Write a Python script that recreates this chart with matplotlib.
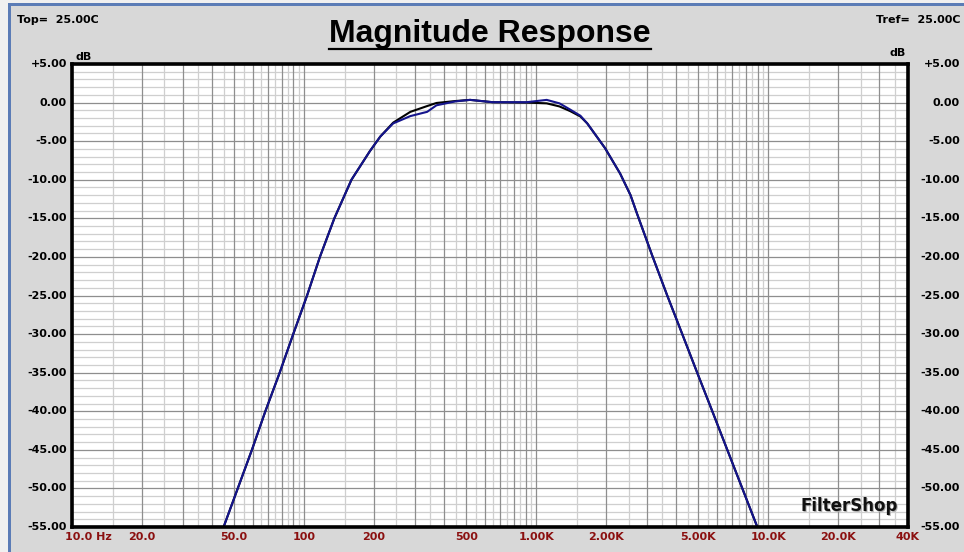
#!/usr/bin/env python3

import numpy as np
import matplotlib
import matplotlib.pyplot as plt
from matplotlib import transforms
from matplotlib.patches import Rectangle
from matplotlib.lines import Line2D

matplotlib.use('Agg')

# frequency points (Hz)
freq_hz = [10, 45, 59.6, 68.1, 78.5, 89.8, 103, 117, 135, 160, 192, 213, 242, 287, 339, 372,
           448, 519, 650, 910, 1110, 1260, 1400, 1550, 1660, 1980, 2300, 2550, 2720, 3160,
           3670, 4260, 4940, 5740, 6660, 7730, 8970, 40000]

# measured (black) and model (blue) magnitude in dB
black_db = [-55, -55, -45, -40, -35, -30, -25, -20, -15, -10, -6.3, -4.4, -2.6, -1.2, -0.45, -0.05,
            0.2, 0.35, 0.05, 0.0, -0.1, -0.5, -1.1, -1.8, -2.7, -5.9, -9.2, -12.0, -14.4, -19.8,
            -25, -30, -35, -40, -45, -50, -55, -55]
blue_db = [-55, -55, -45, -40, -35, -30, -25, -20, -15, -10, -6.3, -4.4, -2.7, -1.75, -1.2, -0.35,
           0.15, 0.35, 0.05, 0.05, 0.35, -0.1, -0.9, -1.7, -2.7, -5.9, -9.2, -12.0, -14.4, -19.8,
           -25, -30, -35, -40, -45, -50, -55, -55]

x_ticks = [10, 20, 50, 100, 200, 500, 1000, 2000, 5000, 10000, 20000, 40000]
x_labels = ['10.0 Hz', '20.0', '50.0', '100', '200', '500', '1.00K', '2.00K',
            '5.00K', '10.0K', '20.0K', '40K']
y_ticks = list(range(5, -60, -5))


def db_label(v):
    if v > 0:
        return '+%.2f' % v
    return '%.2f' % v


W, H = 964, 552
fig = plt.figure(figsize=(W / 100, H / 100), dpi=100, facecolor='#d8d8d8')

# window border
fig.patches.append(Rectangle((0, 0), 8 / W, 1, transform=fig.transFigure,
                             facecolor='#f0f0f0', edgecolor='none', zorder=0))
fig.patches.append(Rectangle((0, 1 - 3 / H), 1, 3 / H, transform=fig.transFigure,
                             facecolor='#f0f0f0', edgecolor='none', zorder=0))
fig.patches.append(Rectangle((8 / W, 0), 3 / W, 1 - 3 / H, transform=fig.transFigure,
                             facecolor='#5b7cb6', edgecolor='none', zorder=1))
fig.patches.append(Rectangle((8 / W, 1 - 6 / H), 1, 3 / H, transform=fig.transFigure,
                             facecolor='#5b7cb6', edgecolor='none', zorder=1))

ax = fig.add_axes([72 / W, 1 - 527 / H, (908 - 72) / W, (527 - 64) / H])
ax.set_facecolor('white')
ax.set_xscale('log')
ax.set_xlim(10, 40000)
ax.set_ylim(-55, 5)

# grid: dark lines at 1..9 per decade, light at the half steps
for dec in [10, 100, 1000, 10000]:
    for m in range(1, 10):
        f = dec * m
        if f < 40000:
            ax.axvline(f, color='#8e8e8e', lw=0.9, zorder=1)
        fh = dec * (m + 0.5)
        if fh < 40000:
            ax.axvline(fh, color='#cfcfcf', lw=0.9, zorder=0.5)
for v in range(-55, 6):
    if v % 5 == 0:
        ax.axhline(v, color='#8e8e8e', lw=0.9, zorder=1)
    else:
        ax.axhline(v, color='#cfcfcf', lw=0.9, zorder=0.5)

ax.plot(freq_hz, black_db, color='black', lw=1.5, zorder=3)
ax.plot(freq_hz, blue_db, color='#14148c', lw=1.5, zorder=4)

for s in ax.spines.values():
    s.set_linewidth(2.6)
    s.set_color('black')
    s.set_zorder(5)

ax.set_xticks([])
ax.set_yticks([])
ax.minorticks_off()

# tick labels
lab = dict(fontsize=8, fontweight='bold', family='DejaVu Sans')
ytr_l = transforms.blended_transform_factory(fig.transFigure, ax.transData)
for v in y_ticks:
    fig.text(67 / W, v, db_label(v), transform=ytr_l, ha='right', va='center',
             color='black', **lab)
    fig.text(960 / W, v, db_label(v), transform=ytr_l, ha='right', va='center',
             color='black', **lab)

xtr = transforms.blended_transform_factory(ax.transData, fig.transFigure)
for f, t in zip(x_ticks, x_labels):
    if f == 10:
        fig.text(65 / W, 1 - 537 / H, t, ha='left', va='center', color='#8b1010', **lab)
    else:
        fig.text(f, 1 - 537 / H, t, transform=xtr, ha='center', va='center',
                 color='#8b1010', **lab)

fig.text(75 / W, 1 - 57 / H, 'dB', ha='left', va='center', color='black', **lab)
fig.text(906 / W, 1 - 53 / H, 'dB', ha='right', va='center', color='black', **lab)
fig.text(17 / W, 1 - 20 / H, 'Top=  25.00C', ha='left', va='center', color='black', **lab)
fig.text(960 / W, 1 - 20 / H, 'Tref=  25.00C', ha='right', va='center', color='black', **lab)

title = fig.text(490 / W, 1 - 34 / H, 'Magnitude Response', ha='center', va='center',
                 fontsize=23, fontweight='bold', family='Liberation Sans', color='black')

# logo
ax.text(0.9885, 0.023, 'FilterShop', transform=ax.transAxes, ha='right', va='bottom',
        fontsize=12, fontweight='bold', family='DejaVu Sans', color='#b0b0b0', zorder=6)
ax.text(0.988, 0.025, 'FilterShop', transform=ax.transAxes, ha='right', va='bottom',
        fontsize=12, fontweight='bold', family='DejaVu Sans', color='#111111', zorder=7)

# underline under the title
fig.canvas.draw()
bb = title.get_window_extent()
y_ul = 1 - 49 / H
fig.lines.append(Line2D([bb.x0 / W, bb.x1 / W], [y_ul, y_ul], transform=fig.transFigure,
                        color='black', lw=1.6))

fig.savefig('out.png', dpi=100, facecolor=fig.get_facecolor())
